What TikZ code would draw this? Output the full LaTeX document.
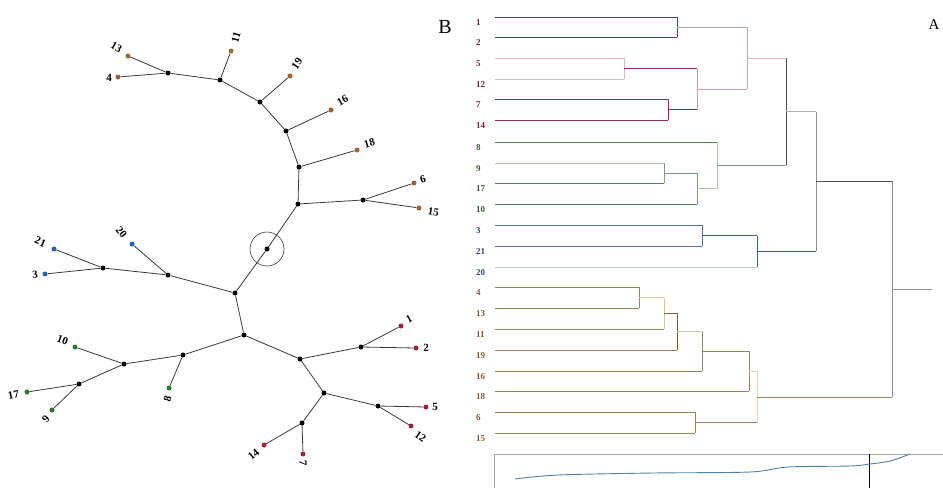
\documentclass[tikz,border=0pt]{standalone}
\usepackage{fontspec}
\setmainfont{Liberation Serif}
\definecolor{lred}{HTML}{A3203C}
\definecolor{lbrown}{HTML}{A2642C}
\definecolor{lblue}{HTML}{2A62B2}
\definecolor{lgreen}{HTML}{2A7A2E}
\definecolor{tred}{HTML}{7A2236}
\definecolor{tgreen}{HTML}{2F5F30}
\definecolor{tblue}{HTML}{2A4A7A}
\definecolor{tbrown}{HTML}{8A5A2A}
\definecolor{dkred}{HTML}{8A2E50}
\definecolor{pinkA}{HTML}{E2B4C6}
\definecolor{pinkB}{HTML}{D49AB4}
\definecolor{dkgreen}{HTML}{4E8058}
\definecolor{mdgreen}{HTML}{7A9E80}
\definecolor{ltgreen}{HTML}{B0CCB0}
\definecolor{blueA}{HTML}{55789A}
\definecolor{blueB}{HTML}{3A5E86}
\definecolor{blueC}{HTML}{B4CCDD}
\definecolor{brA}{HTML}{9A8458}
\definecolor{brB}{HTML}{7A6238}
\definecolor{brC}{HTML}{D4C49C}
\definecolor{brD}{HTML}{E2D6B8}
\definecolor{treeg}{HTML}{3A3A3A}
\definecolor{gA}{HTML}{505050}
\definecolor{gB}{HTML}{909090}
\definecolor{gC}{HTML}{B0B0B0}
\definecolor{boxgray}{HTML}{A8A8A8}
\definecolor{curveblue}{HTML}{5080A8}
\begin{document}
\begin{tikzpicture}[x=1pt,y=-1pt,
  tedge/.style={draw=treeg,line width=0.8pt},
  tdot/.style={circle,fill=black,inner sep=0pt,minimum size=5pt},
  rdot/.style={circle,fill=lred,inner sep=0pt,minimum size=5pt},
  bdot/.style={circle,fill=lbrown,inner sep=0pt,minimum size=5pt},
  udot/.style={circle,fill=lblue,inner sep=0pt,minimum size=5pt},
  gdot/.style={circle,fill=lgreen,inner sep=0pt,minimum size=5pt},
  tlab/.style={inner sep=0pt,font=\fontsize{11}{13}\selectfont\bfseries},
  dlab/.style={inner sep=0pt,anchor=west,font=\fontsize{9}{11}\selectfont\bfseries},
  dl/.style={line width=1pt}]
\useasboundingbox (0,0) rectangle (943,488);
% ---------------- left tree ----------------
\node[tdot] (a) at (168,73) {};
\node[tdot] (b) at (220,80) {};
\node[tdot] (c) at (260,102) {};
\node[tdot] (d) at (286,131) {};
\node[tdot] (e) at (299,167) {};
\node[tdot] (f) at (298,204) {};
\node[tdot] (g) at (363,200) {};
\node[tdot] (h) at (267,249) {};
\node[tdot] (k) at (235,293) {};
\node[tdot] (j) at (168,275) {};
\node[tdot] (i) at (103,268) {};
\node[tdot] (l) at (244,335) {};
\node[tdot] (m) at (183,355) {};
\node[tdot] (n) at (124,364) {};
\node[tdot] (o) at (79,384) {};
\node[tdot] (p) at (300,359) {};
\node[tdot] (q) at (361,347) {};
\node[tdot] (r) at (324,393) {};
\node[tdot] (s) at (378,406) {};
\node[tdot] (t) at (302,423) {};
\node[bdot] (v13) at (128,56) {};
\node[bdot] (v4) at (118,77) {};
\node[bdot] (v11) at (231,51) {};
\node[bdot] (v19) at (290,76) {};
\node[bdot] (v16) at (331,110) {};
\node[bdot] (v18) at (357,150) {};
\node[bdot] (v6) at (414,183) {};
\node[bdot] (v15) at (419,208) {};
\node[udot] (v21) at (54,249) {};
\node[udot] (v20) at (132,244) {};
\node[udot] (v3) at (45,274) {};
\node[gdot] (v8) at (169,388) {};
\node[gdot] (v10) at (75,347) {};
\node[gdot] (v17) at (27,392) {};
\node[gdot] (v9) at (52,410) {};
\node[rdot] (v1) at (401,326) {};
\node[rdot] (v2) at (416,348) {};
\node[rdot] (v5) at (426,407) {};
\node[rdot] (v12) at (411,426) {};
\node[rdot] (v14) at (264,445) {};
\node[rdot] (v7) at (303,454) {};
\foreach \u/\w in {a/v13,a/v4,a/b,b/v11,b/c,c/v19,c/d,d/v16,d/e,e/v18,e/f,f/g,g/v6,g/v15,f/h,h/k,k/j,j/v20,j/i,i/v21,i/v3,k/l,l/m,m/v8,m/n,n/v10,n/o,o/v17,o/v9,l/p,p/q,q/v1,q/v2,p/r,r/s,s/v5,s/v12,r/t,t/v14,t/v7}
  \draw[tedge] (\u) -- (\w);
\node[draw=treeg,line width=0.6pt,circle,minimum size=34pt,inner sep=0pt] (ring) at (h) {};
% labels
\node[tlab,rotate=-30] (l13) at (116.5,47.5) {13};
\node[tlab] (l4) at (109,78) {4};
\node[tlab,rotate=75] (l11) at (236,37.5) {11};
\node[tlab,rotate=55] (l19) at (297,63.5) {19};
\node[tlab,rotate=30] (l16) at (342.5,100.5) {16};
\node[tlab,rotate=16] (l18) at (369.5,143.5) {18};
\node[tlab,rotate=18] (l6) at (423,179.5) {6};
\node[tlab,rotate=-10] (l15) at (433.5,211.5) {15};
\node[tlab,rotate=-25] (l21) at (40.5,242) {21};
\node[tlab,rotate=-50] (l20) at (121.5,232.5) {20};
\node[tlab,rotate=5] (l3) at (35,275) {3};
\node[tlab,rotate=-20] (l10) at (62.5,340) {10};
\node[tlab,rotate=10] (l17) at (13.5,394.5) {17};
\node[tlab,rotate=50] (l9) at (46,419.5) {9};
\node[tlab,rotate=75] (l8) at (167.5,398.5) {8};
\node[tlab,rotate=28] (l1) at (409,319) {1};
\node[tlab] (l2) at (426,348) {2};
\node[tlab] (l5) at (435,407) {5};
\node[tlab,rotate=-35] (l12) at (420.5,436.5) {12};
\node[tlab,rotate=40] (l14) at (253.5,454.5) {14};
\node[tlab,rotate=-88] (l7) at (303,463.5) {7};
% ---------------- letters ----------------
\node[inner sep=0pt,font=\fontsize{20}{22}\selectfont] (B) at (445,27) {B};
\node[inner sep=0pt,font=\fontsize{15}{17}\selectfont] (A) at (934,25) {A};
% ---------------- dendrogram ----------------
\foreach \nm/\yy/\cc in {1/17/tred,2/37/tred,5/58/tred,12/79/tred,7/99/tred,14/120/tred,8/142/tgreen,9/163/tgreen,17/183/tgreen,10/204/tgreen,3/225/tblue,21/246/tblue,20/267/tblue,4/287/tbrown,13/308/tbrown,11/329/tbrown,19/350/tbrown,16/371/tbrown,18/391/tbrown,6/412/tbrown,15/433/tbrown}{
  \coordinate (d\nm) at (495,\yy);
  \node[dlab,text=\cc] (n\nm) at (476,\yy+5.5) {\nm};
}
\coordinate (m12) at (677,27);
\coordinate (m512) at (624,68.5);
\coordinate (m714) at (668,109.5);
\coordinate (mA) at (697,89);
\coordinate (mR) at (747,58);
\coordinate (m917) at (664,173);
\coordinate (m10) at (697,188.5);
\coordinate (m8) at (717,165);
\coordinate (mRG) at (786,111.5);
\coordinate (m321) at (702,235.5);
\coordinate (m20) at (757,251);
\coordinate (mRGB) at (816,181);
\coordinate (m413) at (639,297.5);
\coordinate (m11) at (664,313);
\coordinate (m19) at (677,331.5);
\coordinate (m16) at (702,351);
\coordinate (m18) at (749,371);
\coordinate (m615) at (695,422.5);
\coordinate (mBr) at (757,397);
\coordinate (root) at (892,289);
\coordinate (rootend) at (932,289);
% merge macro: child1, child2, merge, col1, col2, colv
\newcommand\dmerge[6]{%
  \draw[dl,draw=#4] (#1) -- (#1 -| #3);
  \draw[dl,draw=#5] (#2) -- (#2 -| #3);
  \draw[dl,draw=#6] (#1 -| #3) -- (#2 -| #3);}
\dmerge{d1}{d2}{m12}{dkred}{dkred}{dkred}
\dmerge{d5}{d12}{m512}{pinkA}{pinkA}{pinkA}
\dmerge{d7}{d14}{m714}{dkred}{dkred}{dkred}
\dmerge{m512}{m714}{mA}{dkred}{dkred}{pinkB}
\dmerge{m12}{mA}{mR}{pinkB}{pinkB}{pinkB}
\dmerge{d9}{d17}{m917}{ltgreen}{dkgreen}{mdgreen}
\dmerge{m917}{d10}{m10}{mdgreen}{dkgreen}{mdgreen}
\dmerge{d8}{m10}{m8}{dkgreen}{ltgreen}{ltgreen}
\dmerge{mR}{m8}{mRG}{pinkA}{mdgreen}{gA}
\dmerge{d3}{d21}{m321}{blueA}{blueA}{blueA}
\dmerge{m321}{d20}{m20}{blueB}{blueC}{blueB}
\dmerge{mRG}{m20}{mRGB}{gC}{blueB}{gB}
\dmerge{d4}{d13}{m413}{brA}{brA}{brA}
\dmerge{m413}{d11}{m11}{brC}{brA}{brC}
\dmerge{m11}{d19}{m19}{brB}{brA}{brB}
\dmerge{m19}{d16}{m16}{brC}{brA}{brA}
\dmerge{m16}{d18}{m18}{brA}{brA}{brA}
\dmerge{d6}{d15}{m615}{brA}{brA}{brA}
\dmerge{m18}{m615}{mBr}{brD}{brA}{brD}
\dmerge{mRGB}{mBr}{root}{gA}{brA}{gB}
\draw[dl,draw=gB] (root) -- (rootend);
% ---------------- bottom plot ----------------
\coordinate (bx0) at (494,488);
\coordinate (bx1) at (494,454);
\coordinate (bx2) at (943,454);
\draw[boxgray,line width=0.8pt] (bx0) -- (bx1) -- (bx2);
\coordinate (cut0) at (869,454);
\coordinate (cut1) at (869,488);
\draw[black,line width=0.9pt] (cut0) -- (cut1);
\draw[curveblue,line width=0.9pt] plot[smooth,tension=0.5] coordinates {(515,479) (558,475) (653,473) (750,472) (788,467) (850,466) (870,464) (890,461) (910,454)};
\end{tikzpicture}
\end{document}
